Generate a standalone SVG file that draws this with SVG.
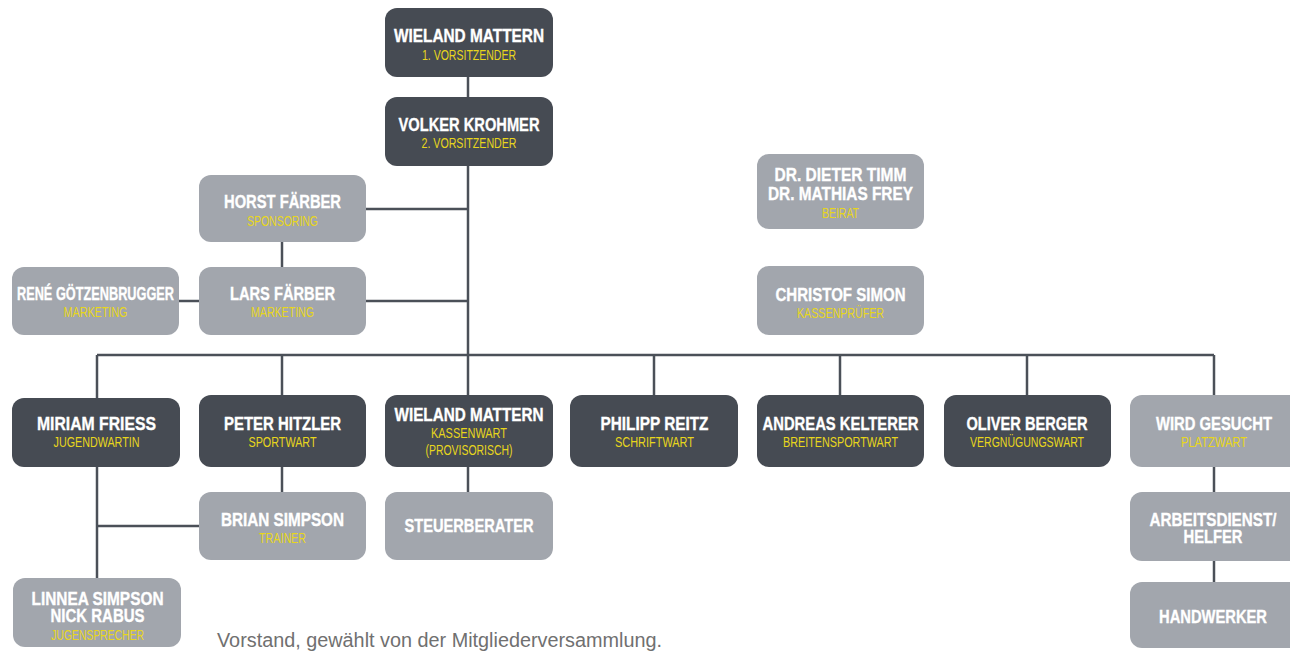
<svg xmlns="http://www.w3.org/2000/svg" width="1290" height="653" viewBox="0 0 1290 653">
<style>
.dark{fill:#464b53}
.light{fill:#a2a6ad}
.t{font-family:"Liberation Sans",Arial,sans-serif;font-weight:bold;font-size:18.5px;fill:#ffffff;stroke:#ffffff;stroke-width:0.35;text-anchor:middle}
.s{font-family:"Liberation Sans",Arial,sans-serif;font-size:14px;fill:#e8d61c;text-anchor:middle}
.c{stroke:#4b5058;stroke-width:2.5;fill:none}
.note{font-family:"Liberation Sans",Arial,sans-serif;font-size:19.5px;fill:#707070}
</style>
<rect width="1290" height="653" fill="#ffffff"/>
<g id="connectors" class="c">
<path d="M468 77V97"/>
<path d="M468 166V355"/>
<path d="M366 209H468"/>
<path d="M366 301H468"/>
<path d="M282 242V267"/>
<path d="M179 301H199"/>
<path d="M97 355H1214"/>
<path d="M97 355V398"/>
<path d="M282 355V395"/>
<path d="M468 355V395"/>
<path d="M654 355V395"/>
<path d="M840 355V395"/>
<path d="M1027 355V395"/>
<path d="M1214 355V395"/>
<path d="M97 466V578"/>
<path d="M97 526H199"/>
<path d="M282 466V492"/>
<path d="M468 466V492"/>
<path d="M1214 466V492"/>
<path d="M1214 561V582"/>
</g>
<g id="n-wieland1"><rect class="dark" x="385" y="8" width="168" height="69" rx="12"/>
<text class="t" x="469" y="42" textLength="150" lengthAdjust="spacingAndGlyphs">WIELAND MATTERN</text>
<text class="s" x="469" y="60" textLength="94" lengthAdjust="spacingAndGlyphs">1. VORSITZENDER</text></g>
<g id="n-volker"><rect class="dark" x="385" y="97" width="168" height="69" rx="12"/>
<text class="t" x="469" y="131" textLength="141" lengthAdjust="spacingAndGlyphs">VOLKER KROHMER</text>
<text class="s" x="469" y="148" textLength="95" lengthAdjust="spacingAndGlyphs">2. VORSITZENDER</text></g>
<g id="n-horst"><rect class="light" x="199" y="175" width="167" height="67" rx="12"/>
<text class="t" x="282.5" y="208" textLength="117" lengthAdjust="spacingAndGlyphs">HORST FÄRBER</text>
<text class="s" x="282.5" y="226" textLength="71" lengthAdjust="spacingAndGlyphs">SPONSORING</text></g>
<g id="n-lars"><rect class="light" x="199" y="267" width="167" height="68" rx="12"/>
<text class="t" x="282.5" y="300" textLength="105" lengthAdjust="spacingAndGlyphs">LARS FÄRBER</text>
<text class="s" x="282.5" y="317" textLength="63" lengthAdjust="spacingAndGlyphs">MARKETING</text></g>
<g id="n-rene"><rect class="light" x="12" y="267" width="167" height="68" rx="12"/>
<text class="t" x="95.5" y="300" textLength="157" lengthAdjust="spacingAndGlyphs">RENÉ GÖTZENBRUGGER</text>
<text class="s" x="95.5" y="317" textLength="64" lengthAdjust="spacingAndGlyphs">MARKETING</text></g>
<g id="n-beirat"><rect class="light" x="757" y="154" width="167" height="75" rx="12"/>
<text class="t" x="840.5" y="181" textLength="132" lengthAdjust="spacingAndGlyphs">DR. DIETER TIMM</text>
<text class="t" x="840.5" y="200" textLength="145" lengthAdjust="spacingAndGlyphs">DR. MATHIAS FREY</text>
<text class="s" x="840.5" y="218" textLength="37" lengthAdjust="spacingAndGlyphs">BEIRAT</text></g>
<g id="n-christof"><rect class="light" x="757" y="266" width="167" height="69" rx="12"/>
<text class="t" x="840.5" y="301" textLength="130" lengthAdjust="spacingAndGlyphs">CHRISTOF SIMON</text>
<text class="s" x="840.5" y="318" textLength="87" lengthAdjust="spacingAndGlyphs">KASSENPRÜFER</text></g>
<g id="n-miriam"><rect class="dark" x="12" y="398" width="168" height="69" rx="12"/>
<text class="t" x="96.5" y="430" textLength="119" lengthAdjust="spacingAndGlyphs">MIRIAM FRIESS</text>
<text class="s" x="96.5" y="447" textLength="86" lengthAdjust="spacingAndGlyphs">JUGENDWARTIN</text></g>
<g id="n-peter"><rect class="dark" x="199" y="395" width="167" height="72" rx="12"/>
<text class="t" x="282.5" y="430" textLength="117" lengthAdjust="spacingAndGlyphs">PETER HITZLER</text>
<text class="s" x="282.5" y="447" textLength="68" lengthAdjust="spacingAndGlyphs">SPORTWART</text></g>
<g id="n-wieland2"><rect class="dark" x="385" y="395" width="168" height="72" rx="12"/>
<text class="t" x="469" y="421" textLength="149" lengthAdjust="spacingAndGlyphs">WIELAND MATTERN</text>
<text class="s" x="469" y="438" textLength="76" lengthAdjust="spacingAndGlyphs">KASSENWART</text>
<text class="s" x="469" y="455" textLength="87" lengthAdjust="spacingAndGlyphs">(PROVISORISCH)</text></g>
<g id="n-philipp"><rect class="dark" x="570" y="395" width="168" height="72" rx="12"/>
<text class="t" x="654.5" y="430" textLength="108" lengthAdjust="spacingAndGlyphs">PHILIPP REITZ</text>
<text class="s" x="654.5" y="447" textLength="79" lengthAdjust="spacingAndGlyphs">SCHRIFTWART</text></g>
<g id="n-andreas"><rect class="dark" x="757" y="395" width="167" height="72" rx="12"/>
<text class="t" x="840.5" y="430" textLength="156" lengthAdjust="spacingAndGlyphs">ANDREAS KELTERER</text>
<text class="s" x="840.5" y="447" textLength="115" lengthAdjust="spacingAndGlyphs">BREITENSPORTWART</text></g>
<g id="n-oliver"><rect class="dark" x="944" y="395" width="167" height="72" rx="12"/>
<text class="t" x="1027" y="430" textLength="121" lengthAdjust="spacingAndGlyphs">OLIVER BERGER</text>
<text class="s" x="1027" y="447" textLength="114" lengthAdjust="spacingAndGlyphs">VERGNÜGUNGSWART</text></g>
<g id="n-wird"><path class="light" d="M1142 395H1290V467H1142A12 12 0 0 1 1130 455V407A12 12 0 0 1 1142 395Z"/>
<text class="t" x="1214" y="430" textLength="116" lengthAdjust="spacingAndGlyphs">WIRD GESUCHT</text>
<text class="s" x="1214" y="447" textLength="66" lengthAdjust="spacingAndGlyphs">PLATZWART</text></g>
<g id="n-brian"><rect class="light" x="199" y="492" width="167" height="68" rx="12"/>
<text class="t" x="282.5" y="526" textLength="123" lengthAdjust="spacingAndGlyphs">BRIAN SIMPSON</text>
<text class="s" x="282.5" y="543" textLength="47" lengthAdjust="spacingAndGlyphs">TRAINER</text></g>
<g id="n-steuer"><rect class="light" x="385" y="492" width="168" height="68" rx="12"/>
<text class="t" x="469" y="532" textLength="129" lengthAdjust="spacingAndGlyphs">STEUERBERATER</text></g>
<g id="n-arbeit"><path class="light" d="M1142 492H1290V561H1142A12 12 0 0 1 1130 549V504A12 12 0 0 1 1142 492Z"/>
<text class="t" x="1213" y="526" textLength="127" lengthAdjust="spacingAndGlyphs">ARBEITSDIENST/</text>
<text class="t" x="1213" y="543" textLength="59" lengthAdjust="spacingAndGlyphs">HELFER</text></g>
<g id="n-hand"><path class="light" d="M1142 582H1290V648H1142A12 12 0 0 1 1130 636V594A12 12 0 0 1 1142 582Z"/>
<text class="t" x="1213" y="623" textLength="108" lengthAdjust="spacingAndGlyphs">HANDWERKER</text></g>
<g id="n-linnea"><rect class="light" x="13" y="578" width="168" height="69" rx="12"/>
<text class="t" x="97.5" y="605" textLength="132" lengthAdjust="spacingAndGlyphs">LINNEA SIMPSON</text>
<text class="t" x="97.5" y="622" textLength="94" lengthAdjust="spacingAndGlyphs">NICK RABUS</text>
<text class="s" x="97.5" y="640" textLength="93" lengthAdjust="spacingAndGlyphs">JUGENSPRECHER</text></g>
<text id="note" class="note" x="217" y="647" textLength="445" lengthAdjust="spacingAndGlyphs">Vorstand, gewählt von der Mitgliederversammlung.</text>
</svg>
